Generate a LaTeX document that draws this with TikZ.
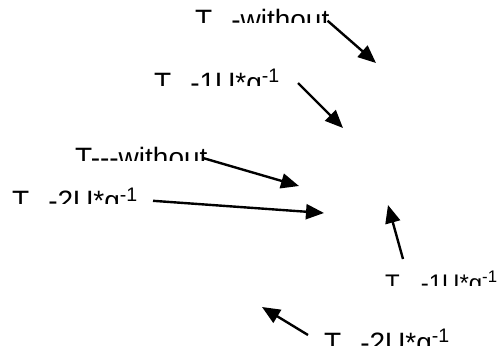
\documentclass[tikz,border=0pt]{standalone}
\usepackage{fontspec}
\setmainfont{Liberation Sans}
\usetikzlibrary{arrows.meta}
\begin{document}
\begin{tikzpicture}[x=1pt,y=-1pt,
  lbl/.style={inner sep=0pt,anchor=base west,font=\fontsize{28}{33}\selectfont},
  arr/.style={line width=2.4pt,-{Triangle[length=18pt,width=15pt]}}]
\useasboundingbox (0,0) rectangle (501,349);
% labels, cut off below
\begin{scope}
\clip (190,0) rectangle (345,22.7);
\node (wo1) [lbl] at (195,29.7) {T\hspace{19pt}-without};
\end{scope}
\begin{scope}
\clip (150,60) rectangle (300,85);
\node (oneU1) [lbl] at (154,92) {T\hspace{19pt}-1U*g\textsuperscript{-1}};
\end{scope}
\begin{scope}
\clip (70,135) rectangle (220,160.7);
\node (wo2) [lbl] at (75,167.7) {T-{}-{}-without};
\end{scope}
\begin{scope}
\clip (5,180) rectangle (150,203.3);
\node (twoU1) [lbl] at (12,210.3) {T\hspace{19pt}-2U*g\textsuperscript{-1}};
\end{scope}
\begin{scope}
\clip (380,260) rectangle (510,285);
\node (oneU2) [lbl,font=\fontsize{24}{29}\selectfont] at (385,291.5) {T\hspace{21pt}-1U*g\textsuperscript{-1}};
\end{scope}
\begin{scope}
\clip (320,320) rectangle (470,345);
\node (twoU2) [lbl] at (324,352) {T\hspace{19pt}-2U*g\textsuperscript{-1}};
\end{scope}
% arrows
\coordinate (wo1tip) at (376,63);
\coordinate (oneU1tip) at (343,128);
\coordinate (wo2tip) at (299,186);
\coordinate (twoU1tip) at (324,213);
\coordinate (oneU2tip) at (388,205);
\coordinate (twoU2tip) at (262,307);
\draw [arr] ([shift={(-2,-9)}]wo1.base east) -- (wo1tip);
\draw [arr] ([shift={(18,-9)}]oneU1.base east) -- (oneU1tip);
\draw [arr] ([shift={(-4,-9.5)}]wo2.base east) -- (wo2tip);
\draw [arr] ([shift={(15,-9.5)}]twoU1.base east) -- (twoU1tip);
\draw [arr] ([shift={(18,-32.5)}]oneU2.base west) -- (oneU2tip);
\draw [arr] ([shift={(-16,-17)}]twoU2.base west) -- (twoU2tip);
\end{tikzpicture}
\end{document}
